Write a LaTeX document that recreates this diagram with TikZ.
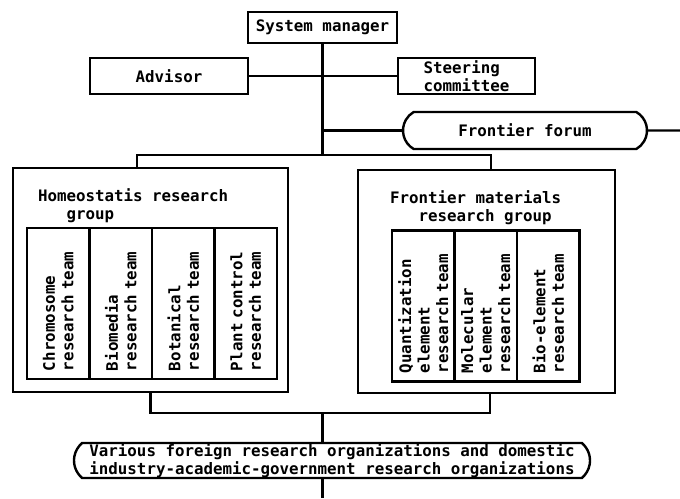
\documentclass[tikz,border=0pt]{standalone}
\usepackage{fontspec}
\setmonofont{DejaVu Sans Mono}
\usetikzlibrary{positioning, shapes.misc}

\begin{document}
\begin{tikzpicture}[
  x=1pt, y=-1pt,
  font=\ttfamily\bfseries\fontsize{15.8}{18.5}\selectfont,
  every path/.style={line width=2.4pt},
  box/.style={draw, inner sep=0pt, align=left},
  pill/.style={rounded rectangle, draw, inner sep=0pt, align=left},
  group/.style={draw, inner sep=0pt},
  title/.style={inner sep=0pt, align=left},
  team/.style={
    draw, rotate=90, minimum width=151pt, minimum height=62.5pt,
    inner xsep=8pt, inner ysep=1pt, text width=135pt, align=left
  }
]
  \useasboundingbox (0,0) rectangle (680,498);

  % management
  \node[box, minimum width=149pt, minimum height=31pt] (sm) at (322.5,27.5) {System manager};
  \node[box, minimum width=158pt, minimum height=36pt] (adv) at (169,76) {Advisor};
  \node[box, minimum width=137pt, minimum height=36pt] (steer) at (466.5,76) {Steering\\committee};
  \node[pill, rounded rectangle arc length=120, minimum width=244pt, minimum height=37pt] (forum) at (525,130.5) {Frontier forum};

  % research groups
  \node[group, minimum width=275pt, minimum height=224pt] (homeo) at (150.5,280) {};
  \node[group, minimum width=257pt, minimum height=223pt] (fmat) at (486.5,281.5) {};
  \node[title, below right=20.5pt and 25pt of homeo.north west] (homeotitle) {Homeostatis research\\\phantom{xxx}group};
  \node[title, below right=20.5pt and 32pt of fmat.north west] (fmattitle) {Frontier materials\\\phantom{xxx}research group};

  \node[team] (chrom) at (58.25,303.5) {Chromosome\\research team};
  \node[team] (biomed) at (120.75,303.5) {Biomedia\\research team};
  \node[team] (botan) at (183.25,303.5) {Botanical\\research team};
  \node[team] (plant) at (245.75,303.5) {Plant control\\research team};

  \node[team] (quant) at (423.25,306) {Quantization\\element\\research team};
  \node[team] (molec) at (485.75,306) {Molecular\\element\\research team};
  \node[team] (bioel) at (548.25,306) {Bio-element\\research team};

  % outside partners
  \node[pill, rounded rectangle arc length=100, minimum width=516pt, minimum height=35pt] (abroad) at (332,460.5)
    {Various foreign research organizations and domestic\\industry-academic-government research organizations};

  % connectors
  \coordinate (topbar) at (322.5,155);
  \coordinate (lowbar) at (322.5,413);
  \coordinate (rim) at (680,130.5);
  \coordinate (foot) at (322.5,498);

  \draw (sm.south) -- (topbar);
  \draw (adv) -- (steer);
  \draw (sm.south |- forum) -- (forum);
  \draw (forum) -- (rim);
  \draw ([xshift=-13.5pt]homeo.north) |- (topbar) -| ([xshift=4.5pt]fmat.north);
  \draw (homeo.south) |- (lowbar) -| ([xshift=3.5pt]fmat.south);
  \draw (lowbar) -- (lowbar |- abroad.north);
  \draw (abroad.south -| foot) -- (foot);
\end{tikzpicture}
\end{document}
